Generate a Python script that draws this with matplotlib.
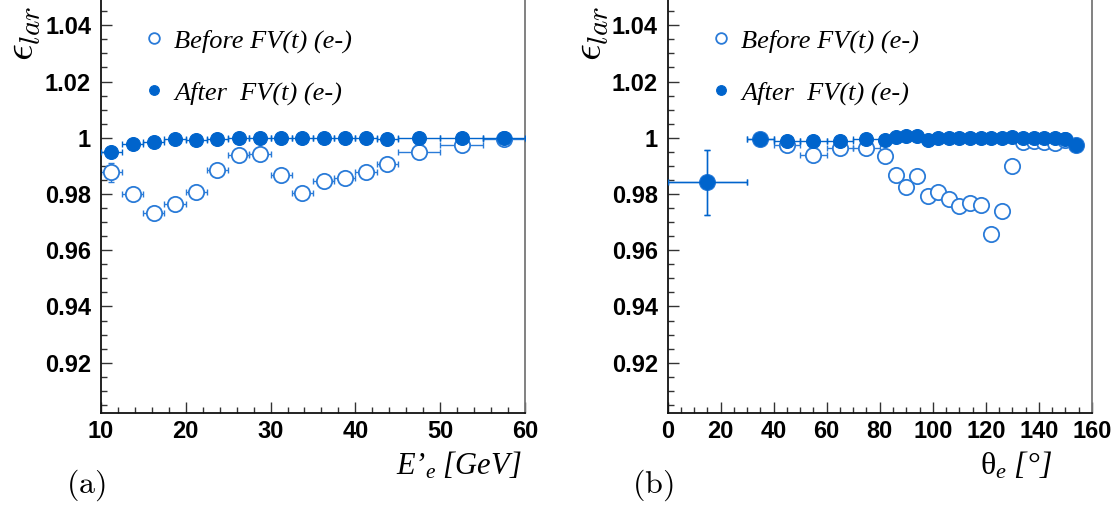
import numpy as np
import matplotlib
matplotlib.use('Agg')
import matplotlib.pyplot as plt
from matplotlib.ticker import MultipleLocator, FuncFormatter

# (a) electron energy
E = [11.25, 13.75, 16.25, 18.75, 21.25, 23.75, 26.25, 28.75, 31.25, 33.75,
     36.25, 38.75, 41.25, 43.75, 47.5, 52.5, 57.5]
E_err = [1.25] * 14 + [2.5] * 3
effBeforeE = [0.9877, 0.9799, 0.9734, 0.9766, 0.9807, 0.9886, 0.9940, 0.9943, 0.9867,
              0.9803, 0.9845, 0.9856, 0.9880, 0.9906, 0.9949, 0.9976, 0.9994]
effBeforeE_err = [0.0033] + [0.0015] * 16
effAfterE = [0.9949, 0.9978, 0.9984, 0.9995, 0.9993, 0.9997, 0.9999, 0.9999, 0.9999,
             0.9999, 0.9999, 1.0, 1.0, 0.9995, 0.9999, 0.9999, 1.0]
effAfterE_err = [0.0012] + [0.0005] * 16

# (b) electron polar angle
theta = [15, 35, 45, 55, 65, 75, 82, 86, 90, 94, 98, 102, 106, 110, 114, 118,
         122, 126, 130, 134, 138, 142, 146, 150, 154]
theta_err = [15, 5, 5, 5, 5, 5] + [2] * 19
effBeforeT = [0.9841, 0.9994, 0.9975, 0.9938, 0.9963, 0.9963, 0.9934, 0.9869, 0.9824,
              0.9865, 0.9794, 0.9806, 0.9783, 0.9756, 0.9768, 0.9760, 0.9656, 0.9739,
              0.9900, 0.9986, 0.9988, 0.9985, 0.9983, 0.9992, 0.9975]
effBeforeT_err = [0.0114] + [0.0012] * 24
effAfterT = [0.9841, 0.9994, 0.9989, 0.9987, 0.9989, 0.9995, 0.9993, 1.0004, 1.0005,
             1.0008, 0.9993, 0.9998, 0.9999, 0.9999, 0.9999, 0.9999, 0.9999, 0.9999,
             1.0004, 1.0, 1.0, 1.0, 1.0, 0.9995, 0.9975]
effAfterT_err = [0.0114] + [0.0005] * 24

yTicks = [0.92, 0.94, 0.96, 0.98, 1.0, 1.02, 1.04]
legendLabels = ['Before FV(t) (e-)', 'After  FV(t) (e-)']

blueFill = '#0064cc'
blueOpen = '#2a7bd8'

plt.rcParams['mathtext.fontset'] = 'custom'
plt.rcParams['mathtext.rm'] = 'Liberation Serif:italic'
plt.rcParams['mathtext.it'] = 'Liberation Serif:italic'
plt.rcParams['mathtext.sf'] = 'Liberation Serif'

fig = plt.figure(figsize=(11.17, 5.08), dpi=100)
axA = fig.add_axes([0.0902, 0.1864, 0.3800, 0.8136])
axB = fig.add_axes([0.5976, 0.1864, 0.3800, 0.8136])


def draw_panel(ax, x, xerr, yb, yb_err, ya, ya_err, xlim, xmajor, xminor):
    ax.errorbar(x, yb, xerr=xerr, yerr=yb_err, fmt='none', ecolor=blueOpen,
                elinewidth=1.0, capsize=2.2, capthick=1.0, zorder=2)
    hb, = ax.plot(x, yb, 'o', ms=11, mfc='white', mec=blueOpen, mew=1.3, zorder=3)
    ax.errorbar(x, ya, xerr=xerr, yerr=ya_err, fmt='none', ecolor=blueFill,
                elinewidth=1.0, capsize=2.2, capthick=1.0, zorder=4)
    ha, = ax.plot(x, ya, 'o', ms=10, mfc=blueFill, mec=blueFill, mew=0.8, zorder=5)

    ax.set_xlim(xlim)
    ax.set_ylim(0.902, 1.049)
    ax.xaxis.set_major_locator(MultipleLocator(xmajor))
    ax.xaxis.set_minor_locator(MultipleLocator(xminor))
    ax.set_yticks(yTicks)
    ax.yaxis.set_minor_locator(MultipleLocator(0.005))
    ax.yaxis.set_major_formatter(FuncFormatter(lambda v, p: '%g' % round(v, 3)))

    ax.spines['top'].set_visible(False)
    ax.spines['right'].set_color('#777777')
    ax.spines['left'].set_color('#111111')
    ax.spines['bottom'].set_color('#111111')
    for s in ['left', 'bottom', 'right']:
        ax.spines[s].set_linewidth(1.3)
    ax.tick_params(which='both', direction='in', top=False, right=False,
                   color='#333333', width=1.0)
    ax.tick_params(which='major', length=8)
    ax.tick_params(which='minor', length=4)
    ax.tick_params(axis='y', which='major', pad=7)
    ax.tick_params(axis='x', which='major', pad=5)
    for lab in ax.get_xticklabels() + ax.get_yticklabels():
        lab.set_fontfamily('Liberation Sans')
        lab.set_fontweight('bold')
        lab.set_fontsize(17)

    ax.legend([hb, ha], legendLabels, loc='upper left', bbox_to_anchor=(0.052, 0.988),
              frameon=False, markerscale=0.7, handlelength=0.6, handletextpad=0.45,
              labelspacing=1.08, prop={'family': 'Liberation Serif', 'style': 'italic', 'size': 19})


draw_panel(axA, E, E_err, effBeforeE, effBeforeE_err, effAfterE, effAfterE_err, (10, 60), 10, 2)
draw_panel(axB, theta, theta_err, effBeforeT, effBeforeT_err, effAfterT, effAfterT_err, (0, 160), 20, 5)

for xpos in [0.020, 0.528]:
    fig.text(xpos, 0.935, r'$\epsilon_{lar}$', rotation=90, fontsize=30,
             math_fontfamily='cm', ha='center', va='center')

fig.text(0.467, 0.065, r'$E’_{e}\ [GeV]$', fontsize=22, ha='right', va='baseline')
fig.text(0.942, 0.065, r'$\mathsf{\theta}_{e}\ [°]$', fontsize=23, ha='right', va='baseline')

fig.text(0.077, 0.045, r'$\mathrm{(a)}$', fontsize=23, math_fontfamily='cm', ha='center', va='center')
fig.text(0.584, 0.045, r'$\mathrm{(b)}$', fontsize=23, math_fontfamily='cm', ha='center', va='center')

plt.savefig('out.png', dpi=100)
